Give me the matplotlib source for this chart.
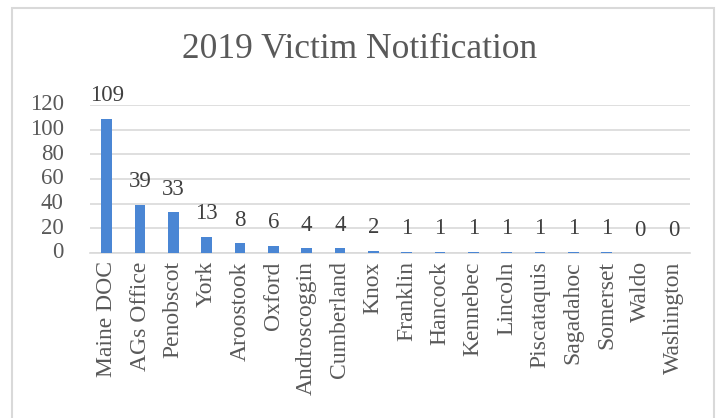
import matplotlib
matplotlib.use("Agg")
import matplotlib.pyplot as plt
from matplotlib.patches import Rectangle

categories = ["Maine DOC", "AGs Office", "Penobscot", "York", "Aroostook", "Oxford",
              "Androscoggin", "Cumberland", "Knox", "Franklin", "Hancock", "Kennebec",
              "Lincoln", "Piscataquis", "Sagadahoc", "Somerset", "Waldo", "Washington"]
values = [109, 39, 33, 13, 8, 6, 4, 4, 2, 1, 1, 1, 1, 1, 1, 1, 0, 0]
yticks = [0, 20, 40, 60, 80, 100, 120]

plt.rcParams['font.family'] = ['Liberation Serif', 'DejaVu Serif']
fig = plt.figure(figsize=(7.19, 4.18), dpi=100)
fig.patch.set_facecolor('white')
fig.patches.append(Rectangle((12/719, -10/418), (714-12)/719, (410+10)/418, transform=fig.transFigure,
                             fill=False, edgecolor='#d9d9d9', linewidth=1.5))

ax = fig.add_axes([90/719, 1-253/418, 600/719, (253-105)/418])
x = list(range(len(categories)))
ax.bar(x, values, width=0.32, color='#4a86d4', zorder=3)
for xi, v in zip(x, values):
    ax.annotate(str(v), (xi, v), xytext=(0, 9), textcoords='offset points',
                ha='center', va='bottom', fontsize=16.5, color='#404040')
ax.set_xlim(-0.5, len(categories) - 0.5)
ax.set_ylim(0, 120)
ax.set_yticks(yticks)
ax.set_yticklabels([str(t) for t in yticks], fontsize=16.5, color='#595959')
ax.set_xticks(x)
ax.set_xticklabels(categories, rotation=90, fontsize=17, color='#595959')
ax.tick_params(axis='y', length=0, pad=19)
ax.tick_params(axis='x', length=0, pad=6)
for lbl in ax.get_yticklabels():
    lbl.set_va('center')
ax.grid(axis='y', color='#d9d9d9', linewidth=1.2, zorder=0)
for s in ['top', 'right', 'left']:
    ax.spines[s].set_visible(False)
ax.spines['bottom'].set_color('#d9d9d9')
ax.spines['bottom'].set_linewidth(1.2)
fig.text(360/719, 1-50/418, "2019 Victim Notification", ha='center', va='center',
         fontsize=25.5, color='#595959')
fig.savefig("out.png", dpi=100)
